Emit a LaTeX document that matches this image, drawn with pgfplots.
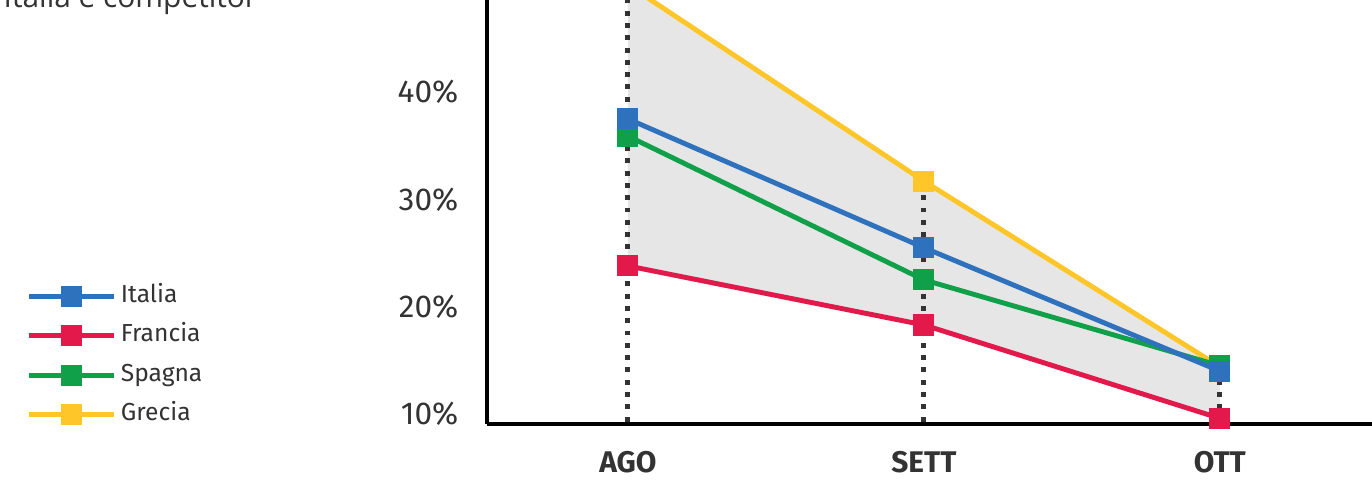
\documentclass[border=0pt]{standalone}
\usepackage{fontspec}
\setmainfont{Fira Sans}
\newfontfamily\titlefont{Open Sans}
\usepackage{pgfplots}
\pgfplotsset{compat=1.18}
\definecolor{cItalia}{HTML}{2E72BD}
\definecolor{cFrancia}{HTML}{E3184B}
\definecolor{cSpagna}{HTML}{11A04A}
\definecolor{cGrecia}{HTML}{FFC629}
\definecolor{cFill}{HTML}{E6E6E6}
\definecolor{cText}{HTML}{333333}

\begin{document}
\begin{tikzpicture}
\begin{axis}[
  at={(4.87cm,0.57cm)}, anchor=south west,
  scale only axis, width=9.105cm, height=4.5cm,
  xmin=-0.476, xmax=2.6, ymin=9.07, ymax=51,
  axis x line*=bottom, axis y line*=left,
  axis line style={line width=1.4pt, black},
  xtick={0,1,2}, xticklabels={AGO,SETT,OTT},
  ytick={10,20,30,40,50},
  yticklabel={\pgfmathprintnumber{\tick}\%},
  /pgf/number format/assume math mode=true,
  major tick length=0pt,
  tick label style={text=cText},
  xticklabel style={font=\fontsize{8.5}{10}\selectfont\bfseries, inner sep=0pt, anchor=north, yshift=-0.27cm},
  yticklabel style={font=\fontsize{9}{11}\selectfont, inner sep=0pt, anchor=east, xshift=-0.28cm},
  clip=false,
  serie/.style={line width=1.4pt, mark=square*, mark size=2.3pt, mark options={solid}},
  dots/.style={line width=1.4pt, color=cText, dash pattern=on 1.4pt off 2.1pt},
  reverse legend,
  legend cell align=left,
  legend style={at={(axis description cs:-0.5063,0.32)}, anchor=north west,
    draw=none, fill=none, inner sep=0pt, row sep=2.3pt,
    font=\fontsize{7}{8}\selectfont, text=cText,
    nodes={inner sep=1.2pt, text height=5pt, text depth=1.5pt}},
  legend image code/.code={\draw[#1, mark repeat=2, mark phase=2] plot coordinates {(0cm,0cm) (0.425cm,0cm) (0.85cm,0cm)};},
]
% area between highest and lowest series
\addplot[fill=cFill, draw=none, forget plot] coordinates {(0,50) (1,31.7) (2,14.4) (2,9.6) (1,18.3) (0,23.8)} -- cycle;
% dotted guides
\addplot[dots, forget plot] coordinates {(0,9.3) (0,51)};
\addplot[dots, forget plot] coordinates {(1,9.3) (1,31.7)};
\addplot[dots, forget plot] coordinates {(2,9.3) (2,14.4)};

\addplot[serie, cGrecia] coordinates {(0,50) (1,31.7) (2,14.4)};
\addlegendentry{Grecia}
\addplot[serie, cSpagna] coordinates {(0,35.9) (1,22.5) (2,14.5)};
\addlegendentry{Spagna}
\addplot[serie, cFrancia] coordinates {(0,23.8) (1,18.3) (2,9.6)};
\addlegendentry{Francia}
\addplot[serie, cItalia] coordinates {(0,37.5) (1,25.5) (2,14.0)};
\addlegendentry{Italia}
\end{axis}
\node[anchor=base west, font=\titlefont\fontsize{8.5}{10}\selectfont, text=cText, inner sep=0pt] at (0.03cm,4.74cm) {Italia e competitor};
\pgfresetboundingbox
\useasboundingbox (0,0) rectangle (13.72cm,4.81cm);
\end{tikzpicture}
\end{document}
